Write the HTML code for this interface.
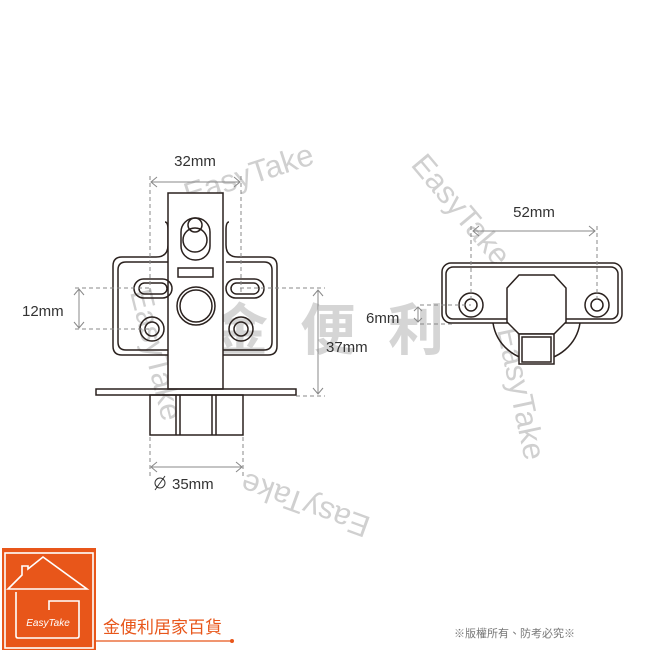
<!DOCTYPE html><html><head><meta charset="utf-8"><style>body{margin:0;background:#fff}svg{display:block}</style></head><body>
<svg width="650" height="650" viewBox="0 0 650 650" xmlns="http://www.w3.org/2000/svg" font-family="Liberation Sans, Noto Sans CJK TC, sans-serif">
<!-- watermarks -->
<g fill="#d0d0d0" font-size="31">
<text x="188" y="205" transform="rotate(-18 188 205)">EasyTake</text>
<text x="410" y="165" transform="rotate(50 410 165)">EasyTake</text>
<text x="130" y="292" transform="rotate(76 130 292)">EasyTake</text>
<text x="497" y="330" transform="rotate(78 497 330)">EasyTake</text>
<text x="372" y="518" transform="rotate(200 372 518)">EasyTake</text>
</g>
<g fill="#c4c4c4" font-size="56" font-weight="bold" opacity="0.7"><text x="212" y="350">金</text><text x="300" y="350">便</text><text x="388" y="350">利</text></g>
<!-- left part -->
<g fill="none" stroke="#2a211e" stroke-width="1.5">
<path d="M165,222 Q168,222 168,230 L168,245 Q168,257 156,257 L122,257 Q113,257 113,266 L113,346 Q113,355 122,355 L268,355 Q277,355 277,346 L277,266 Q277,257 268,257 L238,257 Q226,257 226,245 L226,230 Q226,222 229,222"/>
<path d="M168,262 L126,262 Q118,262 118,270 L118,342 Q118,350 126,350 L264,350 Q272,350 272,342 L272,270 Q272,262 264,262 L226,262"/>
<rect x="168" y="193" width="55" height="196" fill="#fff"/>
<rect x="96" y="389" width="200" height="6"/>
<rect x="150" y="395" width="93" height="40"/>
<path d="M176,395V435M180,395V435M212,395V435M216,395V435"/>
<rect x="181" y="218" width="29" height="42" rx="14"/>
<circle cx="195" cy="225" r="7"/><circle cx="195" cy="240" r="12"/>
<rect x="178" y="268" width="35" height="9"/>
<circle cx="196" cy="306" r="19"/><circle cx="196" cy="306" r="16"/>
<rect x="134" y="279" width="38" height="19" rx="9.5"/><rect x="139" y="283" width="28" height="11" rx="5.5"/>
<rect x="226" y="279" width="38" height="19" rx="9.5"/><rect x="231" y="283" width="28" height="11" rx="5.5"/>
<circle cx="152" cy="329" r="12"/><circle cx="152" cy="329" r="7"/>
<circle cx="241" cy="329" r="12"/><circle cx="241" cy="329" r="7"/>
</g>
<g stroke="#888" stroke-width="1" fill="none">
<path d="M150,176V292M241,176V292M150,437V478M243,437V478" stroke-dasharray="4,3"/>
<path d="M75,288H150M75,329H152M240,288H325M296,396H325" stroke-dasharray="4,3"/>
<path d="M151,182H240M151,467H242M79,289V328M318,290V394"/>
<path d="M157,177L151,182L157,187M234,177L240,182L234,187M157,462L151,467L157,472M236,462L242,467L236,472M74,295L79,289L84,295M74,322L79,328L84,322M313,296L318,290L323,296M313,388L318,394L323,388"/>
</g>
<g fill="#333" font-size="15">
<text x="195" y="166" text-anchor="middle">32mm</text>
<text x="22" y="316">12mm</text>
<text x="326" y="352">37mm</text>
<text x="172" y="489">35mm</text>
</g>
<g stroke="#333" fill="none"><circle cx="160" cy="483" r="5"/><path d="M155,490L165,476"/></g>
<!-- right part -->
<g fill="none" stroke="#2a211e" stroke-width="1.5">
<path d="M493,323 A44,44 0 0 0 580,323"/>
<rect x="442" y="263" width="180" height="60" rx="9" fill="#fff"/>
<rect x="446" y="267" width="172" height="52" rx="7"/>
<path d="M519,275H554L566,288V322L554,334H519L507,322V288Z" fill="#fff"/>
<rect x="519" y="334" width="35" height="30" fill="#fff"/><rect x="522" y="337" width="29" height="25"/>
<circle cx="471" cy="305" r="12"/><circle cx="471" cy="305" r="6"/>
<circle cx="597" cy="305" r="12"/><circle cx="597" cy="305" r="6"/>
</g>
<g stroke="#888" stroke-width="1" fill="none">
<path d="M471,226V302M597,226V302M420,305H471M420,324H455" stroke-dasharray="4,3"/>
<path d="M473,231H595M418,307V322"/>
<path d="M479,226L473,231L479,236M589,226L595,231L589,236M414,311L418,307L422,311M414,318L418,322L422,318"/>
</g>
<g fill="#333" font-size="15"><text x="534" y="217" text-anchor="middle">52mm</text><text x="366" y="323">6mm</text></g>
<!-- logo -->
<rect x="2" y="548" width="94" height="102" fill="#e8561a"/>
<g fill="none" stroke="#fff" stroke-width="1.6">
<rect x="5" y="553" width="88" height="95"/>
<path d="M16,592V636Q16,638 18,638H77Q79,638 79,636V601H49V610"/>
<path d="M16,589H8L22,575V566H28V569L43,557L87,589Z"/>
</g>
<text x="48" y="626" fill="#fff" font-size="10" font-style="italic" text-anchor="middle">EasyTake</text>
<text x="103" y="633" fill="#e8561a" font-size="17" font-family="Liberation Sans, Noto Sans CJK TC, sans-serif">金便利居家百貨</text>
<path d="M96,641H232" stroke="#e8561a" stroke-width="1.2"/><circle cx="232" cy="641" r="2" fill="#e8561a"/>
<text x="454" y="637" fill="#777" font-size="11">※版權所有、防考必究※</text>
</svg></body></html>
